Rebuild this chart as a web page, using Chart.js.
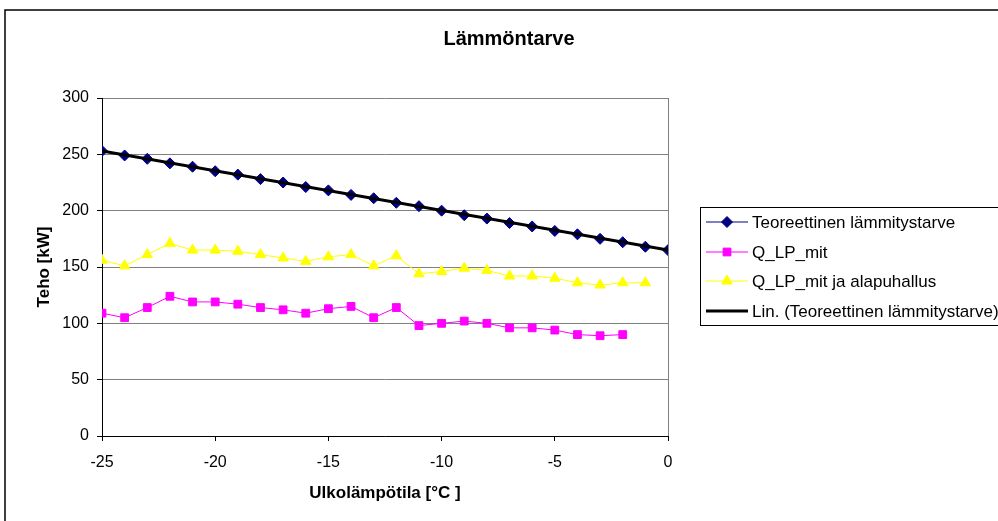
<!DOCTYPE html>
<html lang="fi">
<head>
  <meta charset="UTF-8" />
  <title>Lämmöntarve</title>
  <script src="https://cdn.jsdelivr.net/npm/chart.js"></script>
  <style>
    * { margin: 0; padding: 0; box-sizing: border-box; }
    body { background: #fff; width: 998px; height: 521px; overflow: hidden; }
    #wrap { position: relative; width: 998px; height: 521px; }
  </style>
</head>
<body>
  <div id="wrap">
    <canvas id="heatChart" width="998" height="521"></canvas>
  </div>

  <script>
    // outdoor temperature (°C)
    const temps = [-25, -24, -23, -22, -21, -20, -19, -18, -17, -16, -15, -14, -13,
                   -12, -11, -10, -9, -8, -7, -6, -5, -4, -3, -2, -1, 0];

    const theoryDemand = [253, 249, 246, 242, 239, 235, 232, 228, 225, 221, 218, 214, 211,
                          207, 204, 200, 196, 193, 189, 186, 182, 179, 175, 172, 168, 165];

    // -25 ... -2
    const qLpMit = [109, 105, 114, 124, 119, 119, 117, 114, 112, 109, 113, 115,
                    105, 114, 98, 100, 102, 100, 96, 96, 94, 90, 89, 90];

    // -25 ... -1
    const qLpMitAla = [156, 151, 161, 171, 165, 165, 164, 161, 158, 155, 159, 161,
                       151, 160, 144, 146, 149, 147, 142, 142, 140, 136, 134, 136, 136];

    // trend line end points
    const trendX = [-25, 0];
    const trendY = [253, 165];

    const xTicks = [-25, -20, -15, -10, -5, 0];
    const yTicks = [0, 50, 100, 150, 200, 250, 300];

    const chartTitle = "Lämmöntarve";
    const labels = [
      "Teoreettinen lämmitystarve",
      "Q_LP_mit",
      "Q_LP_mit ja alapuhallus",
      "Lin. (Teoreettinen lämmitystarve)"
    ];

    function pairs(xs, ys) {
      return ys.map((v, i) => ({ x: xs[i], y: v }));
    }

    const FONT = "'Liberation Sans', Arial, sans-serif";

    // marker shapes for the custom legend
    function drawMarker(ctx, style, x, y, r, color) {
      ctx.save();
      ctx.fillStyle = color;
      ctx.strokeStyle = color;
      ctx.lineWidth = 1;
      ctx.beginPath();
      if (style === "rectRot") {
        ctx.moveTo(x, y - r); ctx.lineTo(x + r, y); ctx.lineTo(x, y + r); ctx.lineTo(x - r, y);
      } else if (style === "rect") {
        const s = r * Math.SQRT1_2;
        ctx.rect(x - s, y - s, 2 * s, 2 * s);
      } else if (style === "triangle") {
        ctx.moveTo(x, y - r);
        ctx.lineTo(x + r * 0.866, y + r * 0.5);
        ctx.lineTo(x - r * 0.866, y + r * 0.5);
      }
      ctx.closePath();
      ctx.fill();
      ctx.stroke();
      ctx.restore();
    }

    const framePlugin = {
      id: "frame",
      beforeDraw(chart) {
        const ctx = chart.ctx;
        ctx.save();
        ctx.fillStyle = "#fff";
        ctx.fillRect(0, 0, chart.width, chart.height);
        ctx.strokeStyle = "#000";
        ctx.lineWidth = 1.5;
        ctx.beginPath();
        ctx.moveTo(5, chart.height);
        ctx.lineTo(5, 10);
        ctx.lineTo(chart.width, 10);
        ctx.stroke();

        // chart title, centred on the whole chart frame
        ctx.fillStyle = "#000";
        ctx.font = "bold 20px " + FONT;
        ctx.textAlign = "center";
        ctx.textBaseline = "alphabetic";
        ctx.fillText(chartTitle, 509, 45);
        ctx.restore();
      },
      afterDatasetsDraw(chart) {
        const ctx = chart.ctx;
        const a = chart.chartArea;
        ctx.save();
        ctx.strokeStyle = "#808080";
        ctx.lineWidth = 1;
        ctx.beginPath();
        ctx.moveTo(Math.round(a.right) + 0.5, a.top);
        ctx.lineTo(Math.round(a.right) + 0.5, a.bottom);
        ctx.stroke();

        // legend
        ctx.strokeStyle = "#000";
        ctx.strokeRect(700.5, 207.5, 320, 118);
        const rowY = [222, 252, 281, 311];
        ctx.font = "17px " + FONT;
        ctx.textBaseline = "middle";
        ctx.textAlign = "left";
        chart.data.datasets.forEach((ds, i) => {
          const y = rowY[i];
          ctx.strokeStyle = ds.borderColor;
          ctx.lineWidth = ds.borderWidth;
          ctx.beginPath();
          ctx.moveTo(706, y);
          ctx.lineTo(748, y);
          ctx.stroke();
          if (ds.pointRadius > 0) {
            drawMarker(ctx, ds.pointStyle, 727, y, ds.pointRadius, ds.pointBackgroundColor);
          }
          ctx.fillStyle = "#000";
          ctx.fillText(ds.label, 752, y + 1);
        });
        ctx.restore();
      }
    };

    const ctx = document.getElementById("heatChart").getContext("2d");
    new Chart(ctx, {
      type: "line",
      data: {
        datasets: [
          {
            label: labels[0],
            data: pairs(temps, theoryDemand),
            borderColor: "#000080",
            borderWidth: 1,
            pointStyle: "rectRot",
            pointRadius: 5.5,
            pointBackgroundColor: "#000080",
            pointBorderColor: "#000080",
            pointBorderWidth: 1,
            order: 3
          },
          {
            label: labels[1],
            data: pairs(temps, qLpMit),
            borderColor: "#FF00FF",
            borderWidth: 1,
            pointStyle: "rect",
            pointRadius: 5.5,
            pointBackgroundColor: "#FF00FF",
            pointBorderColor: "#FF00FF",
            pointBorderWidth: 1,
            order: 2
          },
          {
            label: labels[2],
            data: pairs(temps, qLpMitAla),
            borderColor: "#FFFF00",
            borderWidth: 1,
            pointStyle: "triangle",
            pointRadius: 6,
            pointBackgroundColor: "#FFFF00",
            pointBorderColor: "#FFFF00",
            pointBorderWidth: 1,
            order: 1
          },
          {
            label: labels[3],
            data: pairs(trendX, trendY),
            borderColor: "#000000",
            borderWidth: 3,
            pointRadius: 0,
            pointBackgroundColor: "#000000",
            order: 0
          }
        ]
      },
      options: {
        responsive: false,
        animation: false,
        layout: { padding: { left: 5, right: 330, top: 98, bottom: 0 } },
        plugins: {
          legend: { display: false },
          tooltip: { enabled: false },
          title: { display: false }
        },
        scales: {
          x: {
            type: "linear",
            min: -25,
            max: 0,
            afterBuildTicks: (s) => { s.ticks = xTicks.map(v => ({ value: v })); },
            afterFit: (s) => { s.height = 85; },
            ticks: {
              color: "#000",
              font: { family: FONT, size: 16 },
              padding: 12,
              maxRotation: 0
            },
            grid: {
              drawOnChartArea: false,
              drawTicks: true,
              tickLength: 5,
              tickColor: "#000"
            },
            border: { color: "#000", width: 1 },
            title: {
              display: true,
              text: "Ulkolämpötila [°C ]",
              color: "#000",
              font: { family: FONT, size: 17, weight: "bold" },
              padding: { top: 0, bottom: 17 }
            }
          },
          y: {
            min: 0,
            max: 300,
            afterBuildTicks: (s) => { s.ticks = yTicks.map(v => ({ value: v })); },
            afterFit: (s) => { s.width = 97; },
            ticks: {
              color: "#000",
              font: { family: FONT, size: 16 },
              padding: 8
            },
            grid: {
              color: "#808080",
              lineWidth: 1,
              tickLength: 5,
              tickColor: "#000"
            },
            border: { color: "#000", width: 1 },
            title: {
              display: true,
              text: "Teho [kW]",
              color: "#000",
              font: { family: FONT, size: 17, weight: "bold" },
              padding: { top: 29, bottom: 0 }
            }
          }
        }
      },
      plugins: [framePlugin]
    });
  </script>
</body>
</html>
